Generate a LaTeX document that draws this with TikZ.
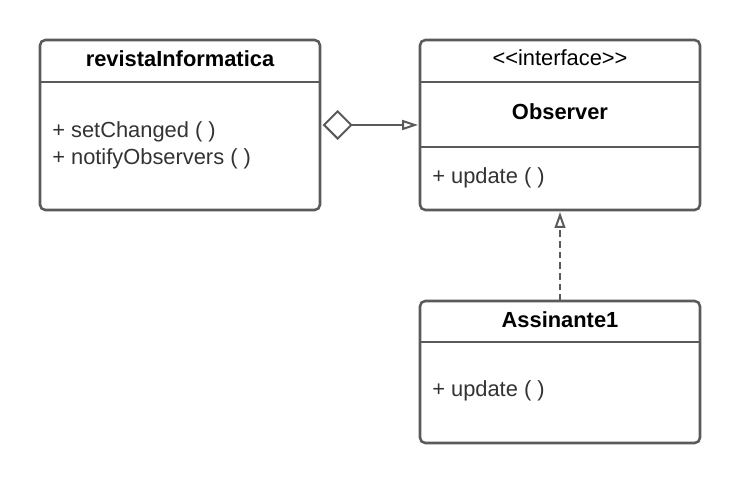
\documentclass[tikz,border=0pt]{standalone}
\usepackage{fontspec}
\setmainfont{Liberation Sans}
\usetikzlibrary{arrows.meta,positioning}
\definecolor{linegray}{HTML}{5A5A5A}
\definecolor{textgray}{HTML}{333333}

\begin{document}
\begin{tikzpicture}[x=0.75pt,y=-0.75pt]

\def\boxw{210pt}
\def\lw{1.9pt}
\def\txtsize{\fontsize{16.4}{20.25}\selectfont}

\tikzset{umlbox/.style = {draw=linegray, line width=\lw, rounded corners=4pt, minimum width=\boxw, inner sep=0pt, outer sep=0pt}}
\tikzset{sepline/.style = {draw=linegray, line width=\lw}}
\tikzset{title/.style = {font=\txtsize\bfseries, text=black, inner sep=0pt}}
\tikzset{member/.style = {font=\txtsize, text=textgray, inner sep=0pt, anchor=west, align=left}}
\tikzset{aggr/.style = {draw=linegray, line width=1.5pt, {Diamond[open, length=22.5pt, width=22.5pt, line width=1.5pt]}-{Triangle[open, length=12pt, width=7.5pt, line width=1.5pt]}}}
\tikzset{realize/.style = {draw=linegray, line width=1.5pt, dash pattern=on 5pt off 3pt, -{Triangle[open, length=12pt, width=8pt, line width=1.5pt]}}}

\useasboundingbox (0,0) rectangle (740,484);

% revistaInformatica
\node[umlbox, minimum height=127.5pt] (revista) at (180,125) {};
\draw[sepline] (revista.west |- 0,82) -- (revista.east |- 0,82);
\node[title] (revistaname) at (180,59) {revistaInformatica};
\node[member] (revistaops) at (52,145) {+ setChanged ( )\\+ notifyObservers ( )};

% Observer
\node[umlbox, minimum height=127.5pt] (observer) at (560,125) {};
\draw[sepline] (observer.west |- 0,82) -- (observer.east |- 0,82);
\draw[sepline] (observer.west |- 0,147) -- (observer.east |- 0,147);
\node[font=\txtsize, inner sep=0pt] (stereo) at (560,58) {<\kern0pt<interface>\kern0pt>};
\node[title] (observername) at (560,112) {Observer};
\node[member] (observerops) at (432,178) {+ update ( )};

% Assinante1
\node[umlbox, minimum height=106.5pt] (assinante) at (560,372) {};
\draw[sepline] (assinante.west |- 0,342) -- (assinante.east |- 0,342);
\node[title] (assinantename) at (560,320) {Assinante1};
\node[member] (assinanteops) at (432,391) {+ update ( )};

% relations
\draw[aggr] ([xshift=2pt]revista.east) -- ([xshift=-1.5pt]observer.west);
\draw[realize] (assinante.north) -- ([yshift=-1.5pt]observer.south);

\end{tikzpicture}
\end{document}
